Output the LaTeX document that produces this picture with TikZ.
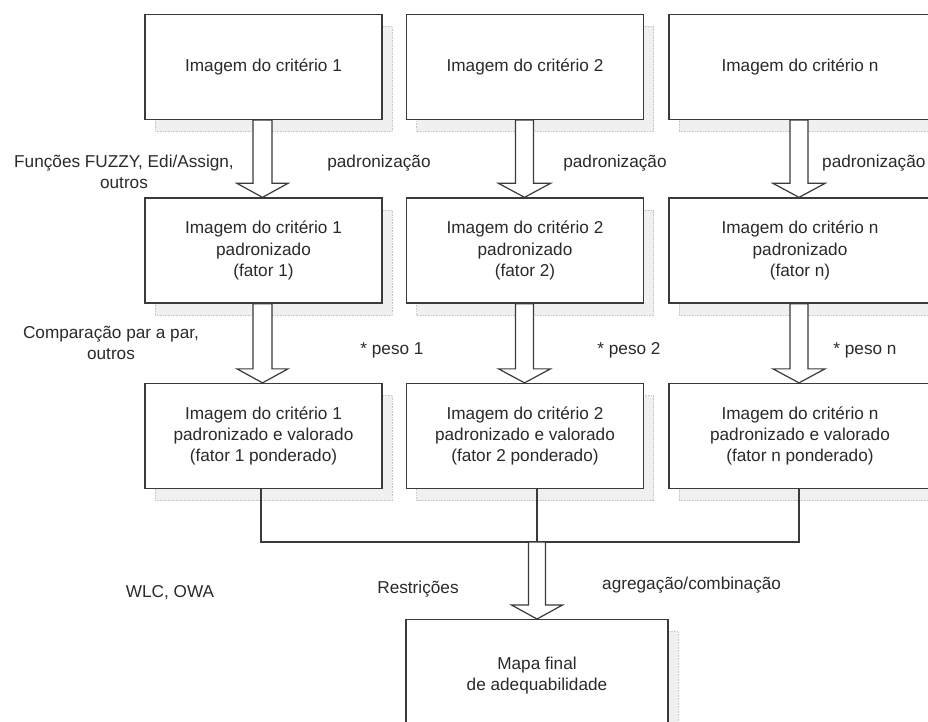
\documentclass[tikz,border=0pt]{standalone}
\usepackage{fontspec}
\setmainfont{Liberation Sans}
\usetikzlibrary{calc,shadows}

\definecolor{inkline}{HTML}{3A3A3A}
\definecolor{inktext}{HTML}{2A2A2A}

\tikzset{
  stagebox/.style={draw=inkline, line width=1.3pt, fill=white, align=center,
    inner sep=0pt, text=inktext, font=\fontsize{17.2}{21.3}\selectfont,
    minimum width=237pt, minimum height=105pt,
    general shadow={fill=black!6, draw=black!22, densely dotted, line width=0.6pt,
      shadow xshift=10pt, shadow yshift=-12pt}},
  note/.style={align=center, inner sep=0pt, text=inktext,
    font=\fontsize{17.2}{20.5}\selectfont},
  link/.style={draw=inkline, line width=1.2pt},
  fatarrow/.style={draw=inkline, line width=1.2pt, fill=white, line join=miter},
}

% hollow block arrow from #1 (top of shaft) to #2 (tip); same x for both
\newcommand{\fatarr}[4]{%
  \draw[fatarrow] ($(#1)+(-#3,0)$) -- ($(#2)+(-#3,-14)$) -- ($(#2)+(-#4,-14)$)
    -- (#2) -- ($(#2)+(#4,-14)$) -- ($(#2)+(#3,-14)$) -- ($(#1)+(#3,0)$) -- cycle;}

\begin{document}
\begin{tikzpicture}[x=1pt, y=-1pt]
  \useasboundingbox (0,0) rectangle (928,722);
  \clip (0,0) rectangle (928,722);

  % criteria images
  \node[stagebox] (r1c1) at (263.5,67) {Imagem do critério 1};
  \node[stagebox] (r1c2) at (525,67) {Imagem do critério 2};
  \node[stagebox, minimum width=262pt] (r1cn) at (800,67) {Imagem do critério n};

  % standardised factors
  \node[stagebox] (r2c1) at (263.5,250.5) {Imagem do critério 1\\padronizado\\(fator 1)};
  \node[stagebox] (r2c2) at (525,250.5) {Imagem do critério 2\\padronizado\\(fator 2)};
  \node[stagebox, minimum width=262pt] (r2cn) at (800,250.5) {Imagem do critério n\\padronizado\\(fator n)};

  % weighted factors
  \node[stagebox] (r3c1) at (263.5,436) {Imagem do critério 1\\padronizado e valorado\\(fator 1 ponderado)};
  \node[stagebox] (r3c2) at (525,436) {Imagem do critério 2\\padronizado e valorado\\(fator 2 ponderado)};
  \node[stagebox, minimum width=262pt] (r3cn) at (800,436) {Imagem do critério n\\padronizado e valorado\\(fator n ponderado)};

  % final map
  \node[stagebox, minimum width=262pt, minimum height=112pt, anchor=north] (fin) at (537,619)
    {Mapa final\\de adequabilidade};

  % block arrows between rows
  \coordinate (a1s) at (r1c1.south -| 262.5,0);
  \coordinate (a1e) at (r2c1.north -| 262.5,0);
  \coordinate (a2s) at (r1c2.south -| 524.5,0);
  \coordinate (a2e) at (r2c2.north -| 524.5,0);
  \coordinate (ans) at (r1cn.south -| 799,0);
  \coordinate (ane) at (r2cn.north -| 799,0);
  \fatarr{a1s}{a1e}{9.5}{25.5}
  \fatarr{a2s}{a2e}{9}{26}
  \fatarr{ans}{ane}{9}{26}

  \coordinate (b1s) at (r2c1.south -| 262.5,0);
  \coordinate (b1e) at (r3c1.north -| 262.5,0);
  \coordinate (b2s) at (r2c2.south -| 524.5,0);
  \coordinate (b2e) at (r3c2.north -| 524.5,0);
  \coordinate (bns) at (r2cn.south -| 799,0);
  \coordinate (bne) at (r3cn.north -| 799,0);
  \fatarr{b1s}{b1e}{9.5}{25.5}
  \fatarr{b2s}{b2e}{9}{26}
  \fatarr{bns}{bne}{9}{26}

  % aggregation of the weighted factors
  \coordinate (join) at (537,542);
  \coordinate (c1d) at (r3c1.south -| 261,0);
  \coordinate (cnd) at (r3cn.south -| 799,0);
  \draw[link] (c1d) |- (join) -| (cnd);
  \draw[link] (r3c2.south -| join) -- (join);
  \coordinate (fine) at (fin.north -| join);
  \fatarr{join}{fine}{8.5}{25.5}

  % labels
  \node[note] (lfz) at (124,172) {Funções FUZZY, Edi/Assign,\\outros};
  \node[note] (lp1) at (379,163) {padronização};
  \node[note] (lp2) at (615,163) {padronização};
  \node[note, anchor=west] (lpn) at (822,163) {padronização};

  \node[note] (lcp) at (111,343) {Comparação par a par,\\outros};
  \node[note] (lw1) at (392,350) {* peso 1};
  \node[note] (lw2) at (629,350) {* peso 2};
  \node[note] (lwn) at (865,350) {* peso n};

  \node[note] (lwlc) at (170,593) {WLC, OWA};
  \node[note] (lres) at (418,589) {Restrições};
  \node[note, anchor=west] (lagg) at (602,585) {agregação/combinação};
\end{tikzpicture}
\end{document}
